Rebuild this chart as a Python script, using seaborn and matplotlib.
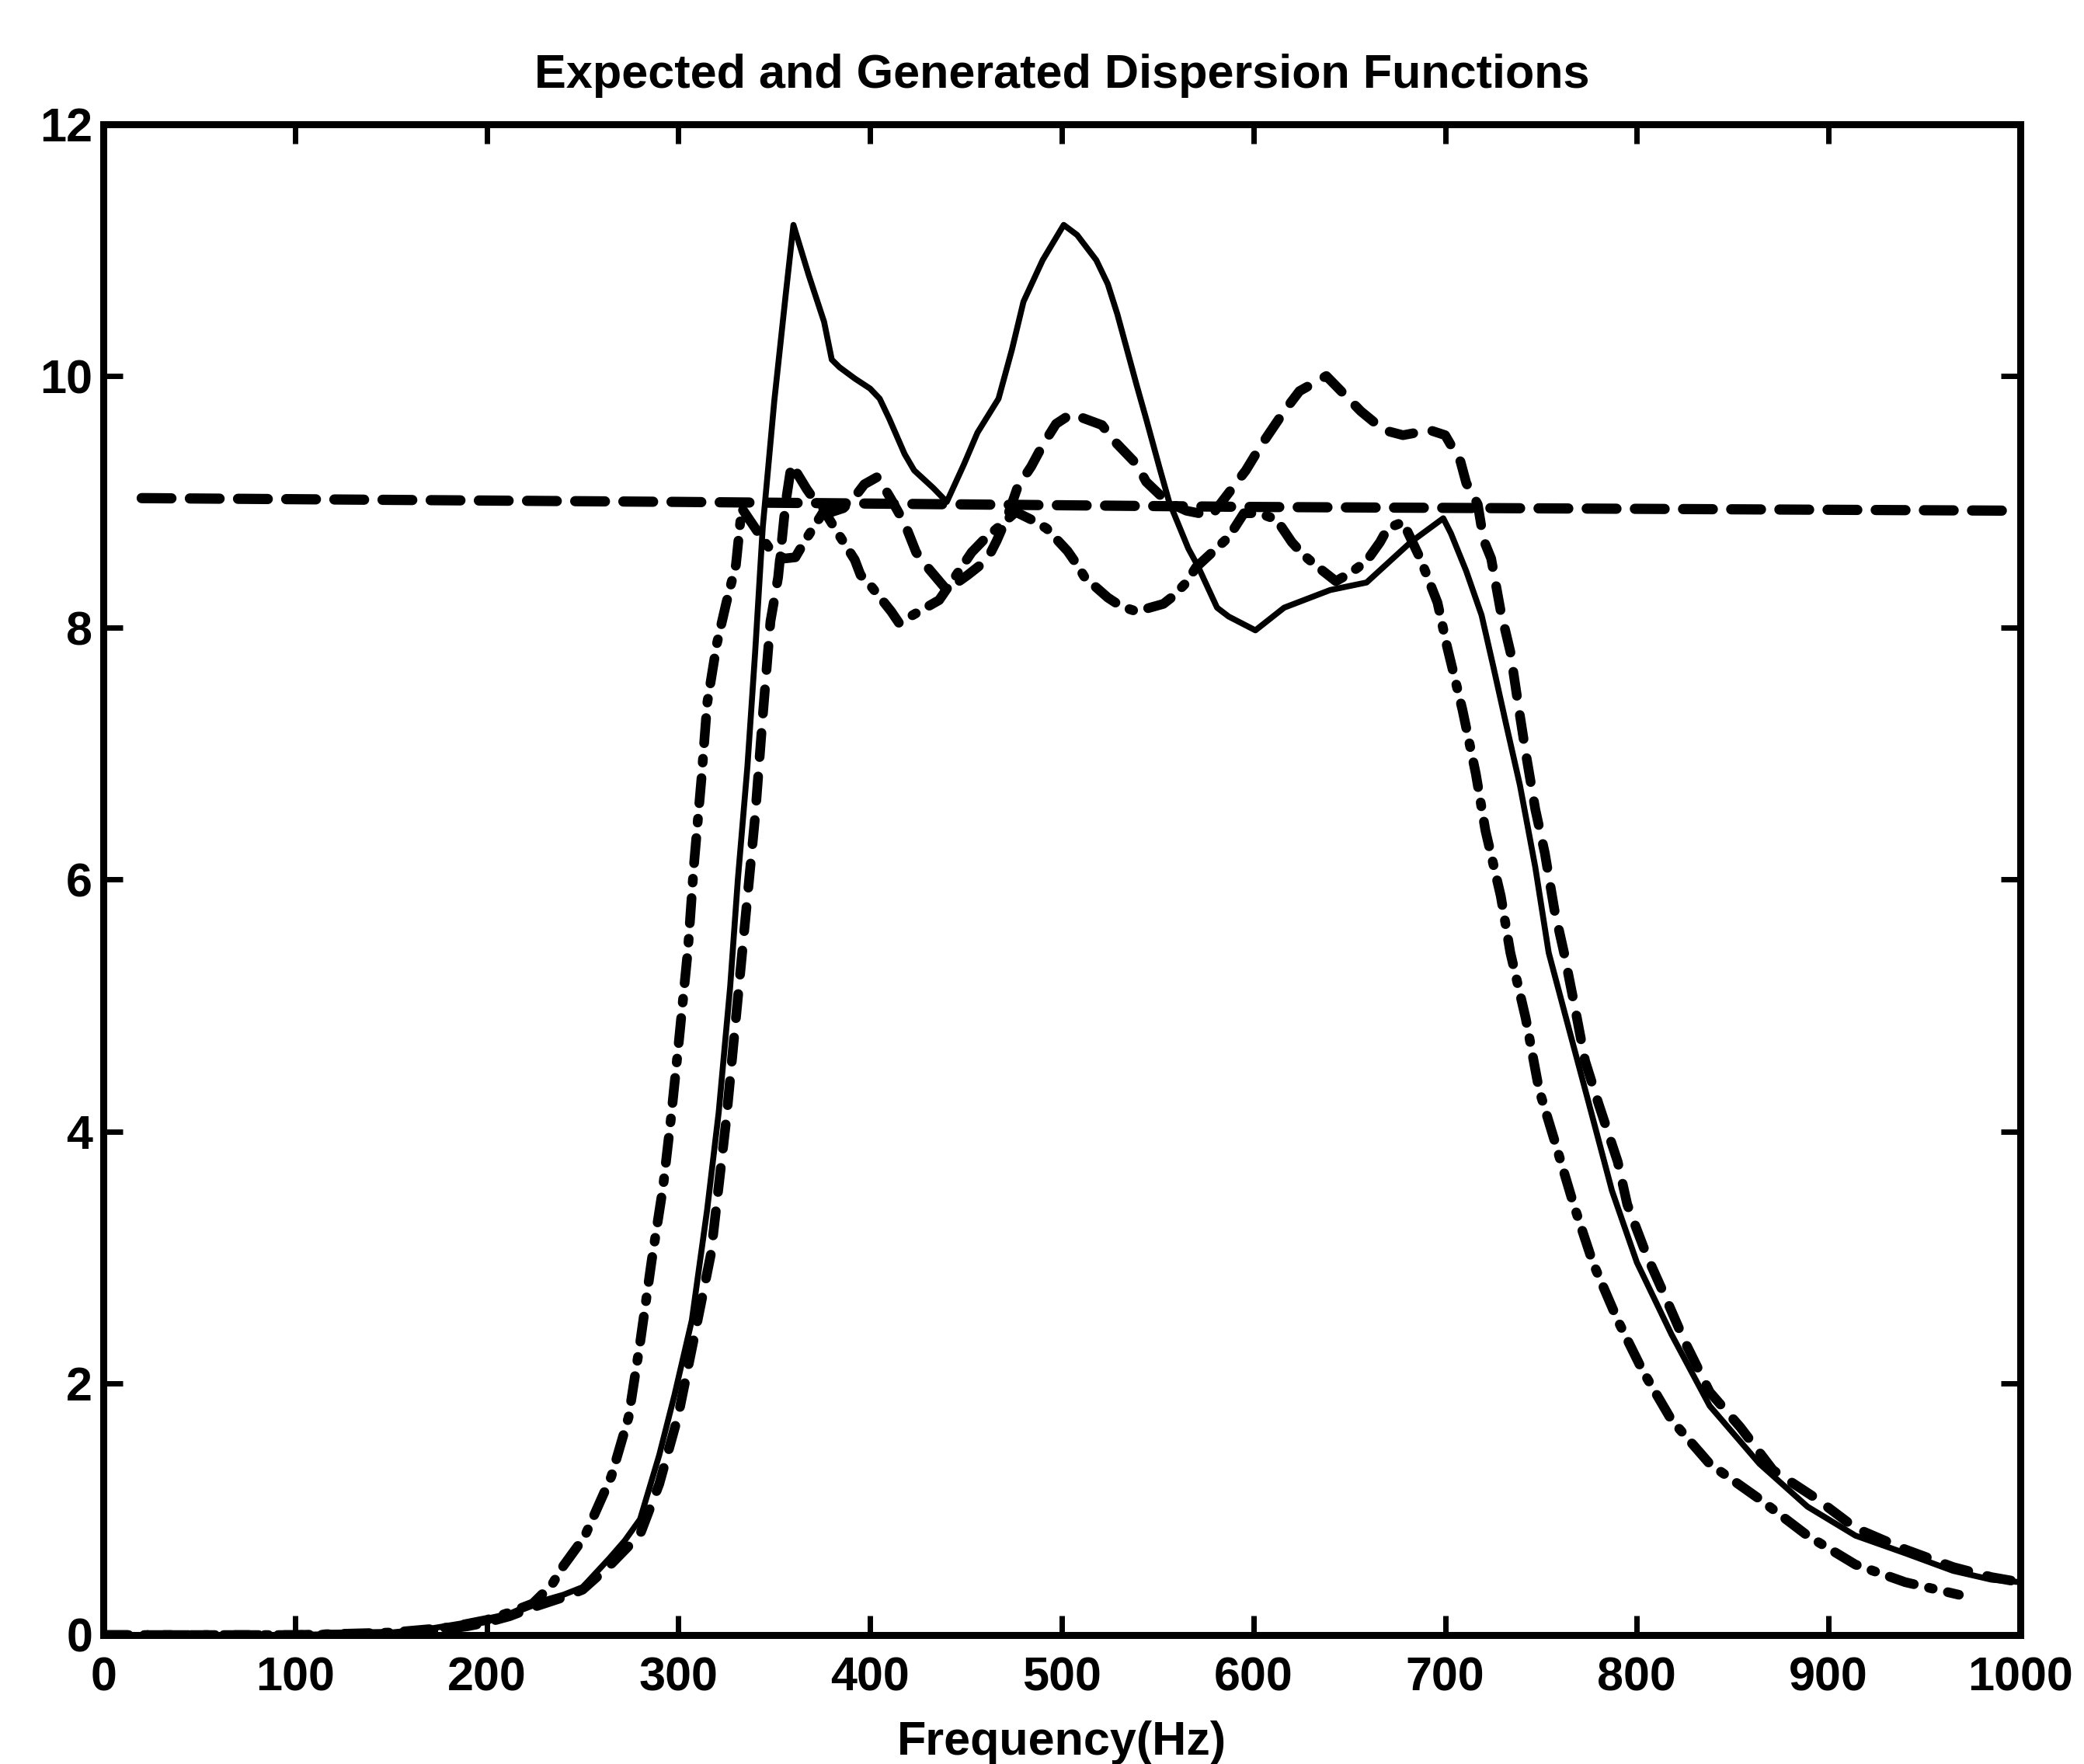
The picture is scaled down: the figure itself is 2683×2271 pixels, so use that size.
import matplotlib
matplotlib.use("Agg")
import matplotlib.pyplot as plt
import seaborn as sns
import pandas as pd

# ---------------- data ----------------
freq_solid = [0, 50, 100, 150, 170, 190, 200, 212, 224, 240, 250, 264, 272, 280, 290,
              298, 307, 315, 321, 327, 331, 336, 340, 344, 347, 350, 356, 360, 368, 376,
              380, 384, 392, 400, 405, 410, 418, 423, 433, 440, 449, 456, 467, 474, 480,
              490, 501, 508, 518, 524, 529, 534, 539, 544, 551, 556, 566, 571, 581, 587,
              601, 616, 640, 659, 682, 699, 703, 711, 719, 725, 732, 739, 747, 754, 765,
              775, 787, 800, 818, 838, 864, 889, 914, 940, 965, 985, 1000]
disp_solid = [0.0, 0.0, 0.0, 0.02, 0.05, 0.1, 0.13, 0.17, 0.25, 0.32, 0.38, 0.61, 0.75, 0.92, 1.43,
              1.91, 2.5, 3.38, 4.15, 5.15, 6.0, 6.9, 7.8, 8.8, 9.3, 9.8, 10.65, 11.2, 10.8, 10.43,
              10.13, 10.07, 9.98, 9.9, 9.82, 9.66, 9.38, 9.25, 9.11, 9.0, 9.3, 9.55, 9.82, 10.21, 10.59,
              10.92, 11.2, 11.12, 10.92, 10.73, 10.49, 10.21, 9.93, 9.66, 9.27, 9.0, 8.63, 8.49, 8.16, 8.09,
              7.98, 8.16, 8.3, 8.36, 8.68, 8.87, 8.75, 8.45, 8.1, 7.7, 7.22, 6.75, 6.1, 5.42, 4.79,
              4.22, 3.53, 2.96, 2.39, 1.82, 1.36, 1.02, 0.79, 0.65, 0.51, 0.44, 0.42]

freq_dashed = [0, 100, 150, 170, 190, 200, 212, 224, 240, 250, 264, 280, 290, 300, 310,
               317, 325, 330, 335, 340, 344, 348, 352, 356, 359, 367, 373, 380, 386, 391,
               397, 404, 411, 418, 424, 430, 440, 451, 461, 466, 472, 477, 484, 490, 497,
               505, 521, 527, 539, 544, 555, 565, 578, 586, 596, 604, 616, 624, 638, 647,
               656, 668, 678, 692, 700, 708, 711, 717, 720, 724, 729, 734, 738, 742, 747,
               752, 757, 762, 768, 773, 780, 790, 795, 805, 815, 825, 838, 854, 871, 894,
               914, 940, 965, 985, 1000]
disp_dashed = [0.0, 0.0, 0.01, 0.03, 0.07, 0.1, 0.15, 0.22, 0.3, 0.36, 0.55, 0.8, 1.2, 1.75, 2.5,
               3.03, 4.1, 4.9, 5.7, 6.5, 7.3, 8.05, 8.4, 9.0, 9.3, 9.1, 8.97, 8.92, 8.95, 9.02,
               9.14, 9.2, 9.02, 8.83, 8.6, 8.48, 8.3, 8.42, 8.54, 8.69, 8.9, 9.12, 9.28, 9.45, 9.62,
               9.7, 9.61, 9.49, 9.3, 9.16, 9.0, 8.93, 8.89, 9.05, 9.25, 9.45, 9.72, 9.88, 10.0, 9.86,
               9.72, 9.57, 9.53, 9.57, 9.53, 9.32, 9.15, 8.98, 8.7, 8.55, 8.13, 7.81, 7.4, 7.01, 6.56,
               6.21, 5.76, 5.42, 4.96, 4.56, 4.22, 3.76, 3.42, 3.02, 2.68, 2.33, 1.93, 1.65, 1.31, 1.08,
               0.85, 0.68, 0.54, 0.46, 0.42]

freq_dashdot = [0, 100, 150, 180, 200, 212, 224, 234, 240, 251, 265, 274, 280, 286, 292,
                296, 300, 305, 308, 312, 315, 320, 325, 330, 333, 341, 348, 355, 361, 366,
                376, 382, 392, 395, 400, 411, 415, 421, 436, 445, 453, 460, 467, 476, 484,
                492, 503, 508, 512, 524, 531, 539, 553, 558, 565, 570, 587, 595, 603, 612,
                620, 626, 633, 643, 651, 659, 666, 670, 678, 687, 696, 701, 709, 716, 721,
                729, 734, 742, 749, 757, 767, 777, 790, 803, 818, 838, 864, 889, 914, 940,
                968]
disp_dashdot = [0.0, 0.0, 0.02, 0.06, 0.12, 0.18, 0.25, 0.4, 0.55, 0.78, 1.26, 1.73, 2.32, 2.97, 3.56,
                4.09, 4.68, 5.45, 6.1, 6.8, 7.4, 7.87, 8.2, 8.5, 8.95, 8.77, 8.62, 8.55, 8.56, 8.69,
                8.93, 8.78, 8.54, 8.42, 8.34, 8.13, 8.04, 8.09, 8.22, 8.42, 8.6, 8.71, 8.8, 8.92, 8.86,
                8.79, 8.61, 8.5, 8.4, 8.24, 8.17, 8.13, 8.19, 8.25, 8.36, 8.48, 8.72, 8.91, 8.91, 8.86,
                8.68, 8.58, 8.49, 8.37, 8.44, 8.53, 8.68, 8.79, 8.84, 8.55, 8.2, 7.85, 7.35, 6.84, 6.39,
                5.87, 5.42, 4.9, 4.33, 3.93, 3.42, 2.96, 2.5, 2.1, 1.71, 1.36, 1.08, 0.79, 0.56, 0.42,
                0.32]

freq_flat = [20, 300, 600, 1000]
disp_flat = [9.03, 9.0, 8.96, 8.93]

x_ticks = [0, 100, 200, 300, 400, 500, 600, 700, 800, 900, 1000]
y_ticks = [0, 2, 4, 6, 8, 10, 12]

title_text = "Expected and Generated Dispersion Functions"
xlabel_text = "Frequency(Hz)"

# ---------------- style ----------------
sns.set_style("ticks")
plt.rcParams['font.family'] = ['Liberation Sans', 'DejaVu Sans']
plt.rcParams['font.weight'] = 'bold'
plt.rcParams['text.color'] = 'black'
plt.rcParams['axes.labelcolor'] = 'black'
plt.rcParams['xtick.color'] = 'black'
plt.rcParams['ytick.color'] = 'black'
plt.rcParams['axes.edgecolor'] = 'black'

fig = plt.figure(figsize=(26.83, 22.71), dpi=100)
ax = fig.add_axes([0.0496, 0.0731, 0.9198, 0.8565])

df_solid = pd.DataFrame({"f": freq_solid, "d": disp_solid})
df_dashed = pd.DataFrame({"f": freq_dashed, "d": disp_dashed})
df_dashdot = pd.DataFrame({"f": freq_dashdot, "d": disp_dashdot})
df_flat = pd.DataFrame({"f": freq_flat, "d": disp_flat})

sns.lineplot(data=df_flat, x="f", y="d", ax=ax, color="black", linewidth=9.5,
             linestyle=(0, (2.9, 1.8)), dash_capstyle="round")
sns.lineplot(data=df_dashed, x="f", y="d", ax=ax, color="black", linewidth=9.0,
             linestyle=(0, (2.5, 2.0)), dash_capstyle="round")
sns.lineplot(data=df_dashdot, x="f", y="d", ax=ax, color="black", linewidth=9.0,
             linestyle=(0, (2.6, 1.6, 0.4, 1.6)), dash_capstyle="round")
sns.lineplot(data=df_solid, x="f", y="d", ax=ax, color="black", linewidth=5.5)

ax.set_xlim(0, 1000)
ax.set_ylim(0, 12)
ax.set_xticks(x_ticks)
ax.set_yticks(y_ticks)
ax.set_xticklabels([str(v) for v in x_ticks])
ax.set_yticklabels([str(v) for v in y_ticks])

for side in ["left", "right", "top", "bottom"]:
    ax.spines[side].set_visible(True)
    ax.spines[side].set_linewidth(6.5)
    ax.spines[side].set_color("black")

ax.tick_params(axis="both", direction="in", length=18, width=5, color="black",
               labelcolor="black",
               top=True, right=True, labeltop=False, labelright=False,
               labelsize=44)
ax.tick_params(axis="x", pad=20)
ax.tick_params(axis="y", pad=10)
for lbl in ax.get_xticklabels() + ax.get_yticklabels():
    lbl.set_fontweight("bold")
    lbl.set_color("black")

ax.set_title(title_text, fontsize=44, fontweight="bold", pad=34, color="black")
ax.set_xlabel(xlabel_text, fontsize=44, fontweight="bold", labelpad=18, color="black")
ax.set_ylabel("")

fig.savefig("out.png", dpi=100, facecolor="white")
